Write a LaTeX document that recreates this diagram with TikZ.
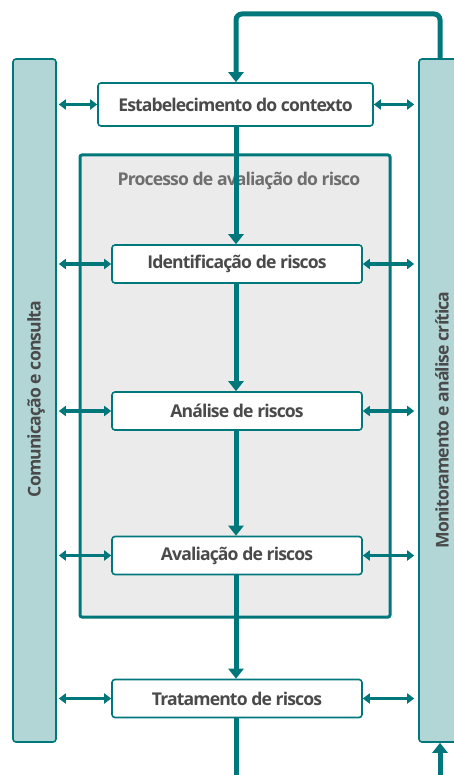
\documentclass[tikz,border=0pt]{standalone}
\usepackage{fontspec}
\setmainfont{Open Sans}
\usetikzlibrary{arrows.meta}

\definecolor{riskteal}{HTML}{00777A}
\definecolor{barfill}{HTML}{B2D5D6}
\definecolor{procfill}{HTML}{EBEBEB}
\definecolor{risktext}{HTML}{4A4A4A}
\definecolor{proctext}{HTML}{6E6E6E}

\newcommand{\riskfont}{\fontsize{17.6}{20}\selectfont\bfseries\addfontfeature{LetterSpace=-5}}

\begin{document}
\begin{tikzpicture}[%
      x=1pt, y=-1pt,
      stepbox/.style={draw=riskteal, line width=1.6pt, fill=white, rounded corners=3pt,
        minimum width=250pt, minimum height=38pt, inner sep=0pt,
        font=\riskfont, text=risktext},
      sidebar/.style={draw=riskteal, line width=1.6pt, fill=barfill, rounded corners=3pt,
        minimum width=43pt, minimum height=683pt, inner sep=0pt},
      sidetext/.style={rotate=90, font=\riskfont, text=risktext},
      flow/.style={draw=riskteal, line width=5pt, -{Triangle[width=15pt,length=10pt]}},
      link/.style={draw=riskteal, line width=3.5pt, {Triangle[width=10pt,length=7pt]}-{Triangle[width=10pt,length=7pt]}},
      ]
      \useasboundingbox (0,0) rectangle (453,775);

      \node[sidebar] (comm) at (34.5,400.5) {};
      \node[sidebar] (mon) at (440.5,400.5) {};
      \node[sidetext] at (36,399) {Comunicação e consulta};
      \node[sidetext] at (442,420) {Monitoramento e análise crítica};

      \draw[draw=riskteal, line width=3pt, fill=procfill, rounded corners=2pt] (80,155) rectangle (390,617);
      \node[text=proctext, font=\riskfont] (proc) at (239,181) {Processo de avaliação do risco};

      \node[stepbox, minimum width=275pt, minimum height=43pt] (ctx) at (235.5,104.5) {Estabelecimento do contexto};
      \node[stepbox] (ident) at (237,264) {Identificação de riscos};
      \node[stepbox] (anal) at (237,411) {Análise de riscos};
      \node[stepbox] (aval) at (237,555.5) {Avaliação de riscos};
      \node[stepbox] (trat) at (237,698.5) {Tratamento de riscos};

      \coordinate (topleft) at (236,14);
      \coordinate (topright) at (440,14);
      \coordinate (outbottom) at (236,780);
      \coordinate (inbottom) at (440,780);

      \draw[flow] (ctx.south -| topleft) -- (ident.north -| topleft);
      \draw[flow] (ident.south -| topleft) -- (anal.north -| topleft);
      \draw[flow] (anal.south -| topleft) -- (aval.north -| topleft);
      \draw[flow] (aval.south -| topleft) -- (trat.north -| topleft);
      \draw[flow, -] (trat.south -| topleft) -- (outbottom);
      \draw[flow] (inbottom) -- (mon.south -| inbottom);
      \draw[flow, rounded corners=6pt] (mon.north -| topright) -- (topright) -- (topleft) -- (ctx.north -| topleft);

      \draw[link] ([xshift=2pt]comm.east |- ctx) -- (ctx.west);
      \draw[link] (ctx.east) -- ([xshift=-4pt]mon.west |- ctx);
      \foreach \n in {ident,anal,aval,trat} {
        \draw[link] ([xshift=2pt]comm.east |- \n) -- (\n.west);
        \draw[link] (\n.east) -- ([xshift=-4pt]mon.west |- \n);
      }
\end{tikzpicture}
\end{document}
